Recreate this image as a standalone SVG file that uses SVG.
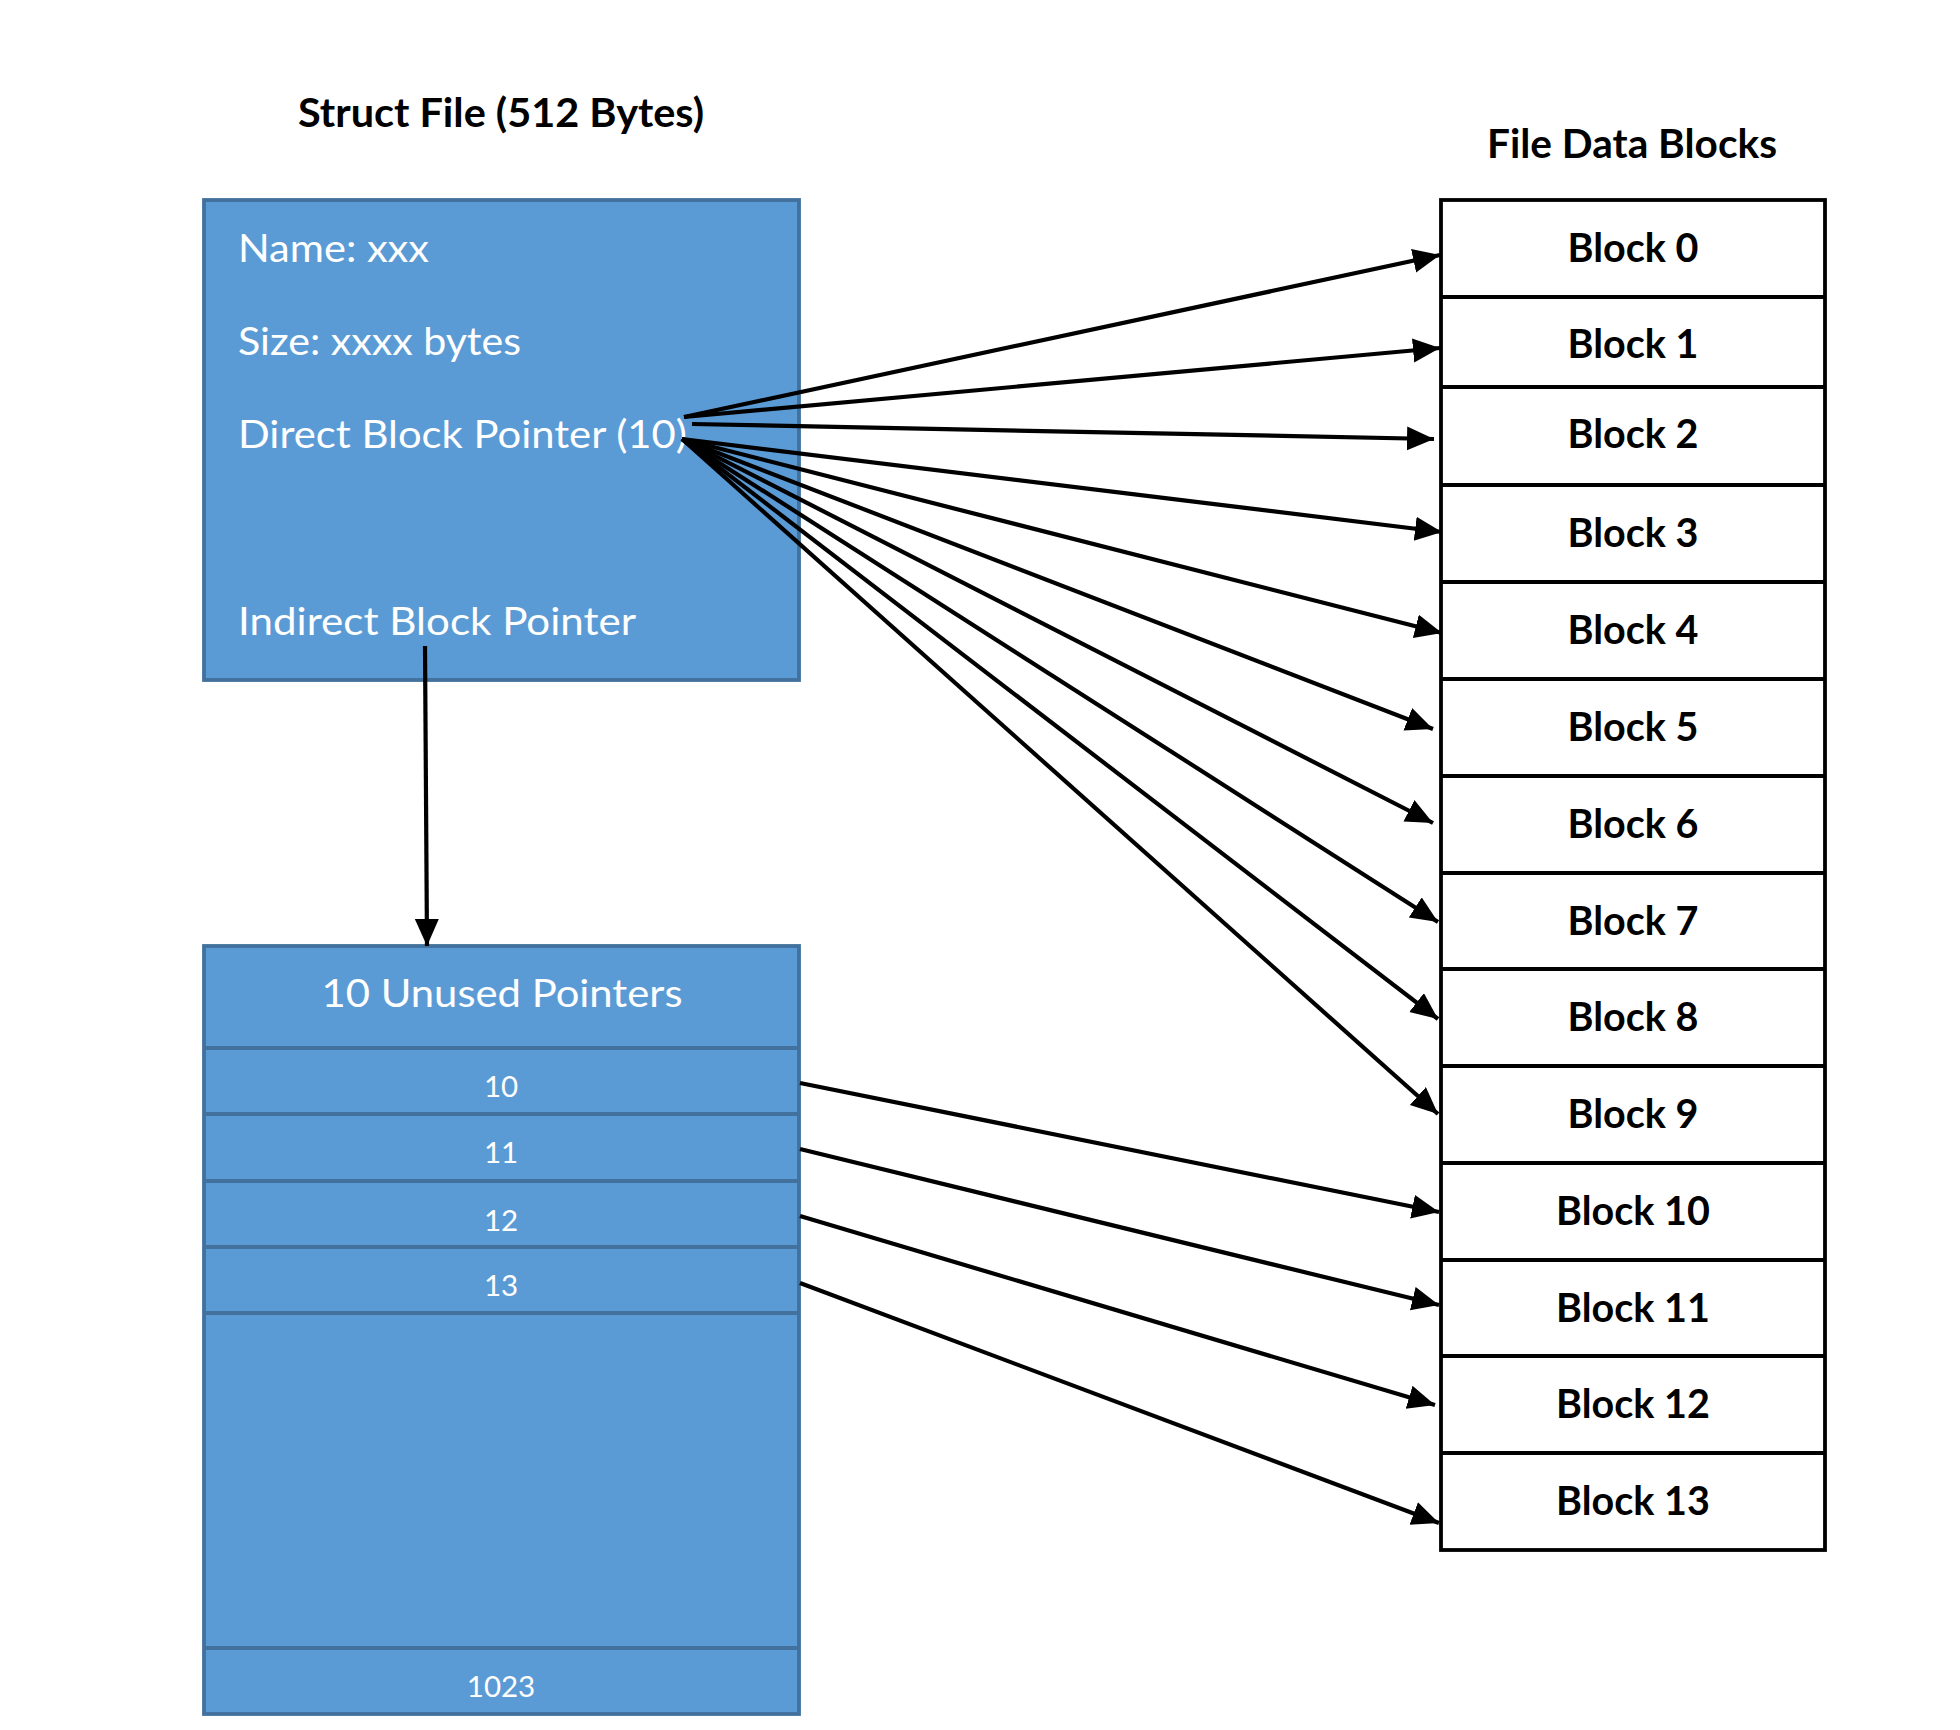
<svg xmlns="http://www.w3.org/2000/svg" width="1960" height="1730" viewBox="0 0 1960 1730">
<style>
.bg{fill:#ffffff}
.struct{fill:#5B9BD5;stroke:#41719C;stroke-width:3.8}
.sep{stroke:#41719C;stroke-width:3.8;fill:none}
.blk{fill:#ffffff;stroke:#000000;stroke-width:3.8}
.title{font-family:Lato,"Liberation Sans",sans-serif;font-weight:bold;font-size:39.5px;fill:#000000}
.wt{font-family:Lato,"Liberation Sans",sans-serif;font-size:39.5px;fill:#ffffff}
.num{font-family:Lato,"Liberation Sans",sans-serif;font-size:29.5px;fill:#ffffff;text-anchor:middle}
.bl{font-family:Lato,"Liberation Sans",sans-serif;font-weight:bold;font-size:39.5px;fill:#000000;text-anchor:middle}
.ar{stroke:#000000;stroke-width:4.2;fill:none;marker-end:url(#ah)}
</style>
<defs>
<marker id="ah" markerUnits="userSpaceOnUse" markerWidth="30" markerHeight="26" refX="27" refY="12" orient="auto">
<path d="M0,0 L27,12 L0,24 Z" fill="#000000"/>
</marker>
</defs>
<rect class="bg" x="0" y="0" width="1960" height="1730"/>

<g id="title-struct"><text class="title" x="501" y="127" text-anchor="middle" textLength="406" lengthAdjust="spacingAndGlyphs">Struct File (512 Bytes)</text></g>
<g id="title-blocks"><text class="title" x="1632" y="158" text-anchor="middle" textLength="290" lengthAdjust="spacingAndGlyphs">File Data Blocks</text></g>

<g id="struct-file">
<rect class="struct" x="204" y="200" width="595" height="480"/>
<text class="wt" x="238" y="262" textLength="191" lengthAdjust="spacingAndGlyphs">Name: xxx</text>
<text class="wt" x="238" y="355" textLength="283" lengthAdjust="spacingAndGlyphs">Size: xxxx bytes</text>
<text class="wt" x="238" y="448" textLength="449" lengthAdjust="spacingAndGlyphs">Direct Block Pointer (10)</text>
<text class="wt" x="238" y="635" textLength="398" lengthAdjust="spacingAndGlyphs">Indirect Block Pointer</text>
</g>

<g id="indirect-block">
<rect class="struct" x="204" y="946" width="595" height="768"/>
<line class="sep" x1="204" y1="1048" x2="799" y2="1048"/>
<line class="sep" x1="204" y1="1114" x2="799" y2="1114"/>
<line class="sep" x1="204" y1="1181" x2="799" y2="1181"/>
<line class="sep" x1="204" y1="1247" x2="799" y2="1247"/>
<line class="sep" x1="204" y1="1313" x2="799" y2="1313"/>
<line class="sep" x1="204" y1="1648" x2="799" y2="1648"/>
<text class="wt" x="502" y="1007" text-anchor="middle" textLength="361" lengthAdjust="spacingAndGlyphs">10 Unused Pointers</text>
<text class="num" x="501" y="1097">10</text>
<text class="num" x="501" y="1163">11</text>
<text class="num" x="501" y="1231">12</text>
<text class="num" x="501" y="1296">13</text>
<text class="num" x="501" y="1697">1023</text>
</g>

<g id="data-blocks">
<rect class="blk" x="1441" y="200" width="384" height="1350"/>
<line class="blk" x1="1441" y1="297" x2="1825" y2="297"/>
<line class="blk" x1="1441" y1="387" x2="1825" y2="387"/>
<line class="blk" x1="1441" y1="485" x2="1825" y2="485"/>
<line class="blk" x1="1441" y1="582" x2="1825" y2="582"/>
<line class="blk" x1="1441" y1="679" x2="1825" y2="679"/>
<line class="blk" x1="1441" y1="776" x2="1825" y2="776"/>
<line class="blk" x1="1441" y1="873" x2="1825" y2="873"/>
<line class="blk" x1="1441" y1="969" x2="1825" y2="969"/>
<line class="blk" x1="1441" y1="1066" x2="1825" y2="1066"/>
<line class="blk" x1="1441" y1="1163" x2="1825" y2="1163"/>
<line class="blk" x1="1441" y1="1260" x2="1825" y2="1260"/>
<line class="blk" x1="1441" y1="1356" x2="1825" y2="1356"/>
<line class="blk" x1="1441" y1="1453" x2="1825" y2="1453"/>
<text class="bl" x="1633" y="262">Block 0</text>
<text class="bl" x="1633" y="358">Block 1</text>
<text class="bl" x="1633" y="448">Block 2</text>
<text class="bl" x="1633" y="547">Block 3</text>
<text class="bl" x="1633" y="644">Block 4</text>
<text class="bl" x="1633" y="741">Block 5</text>
<text class="bl" x="1633" y="838">Block 6</text>
<text class="bl" x="1633" y="935">Block 7</text>
<text class="bl" x="1633" y="1031">Block 8</text>
<text class="bl" x="1633" y="1128">Block 9</text>
<text class="bl" x="1633" y="1225">Block 10</text>
<text class="bl" x="1633" y="1322">Block 11</text>
<text class="bl" x="1633" y="1418">Block 12</text>
<text class="bl" x="1633" y="1515">Block 13</text>
</g>

<g id="connectors">
<line class="ar" x1="684" y1="417" x2="1440" y2="255"/>
<line class="ar" x1="684" y1="417" x2="1440" y2="348"/>
<line class="ar" x1="692" y1="424" x2="1434" y2="439"/>
<line class="ar" x1="682" y1="439" x2="1442" y2="532"/>
<line class="ar" x1="682" y1="439" x2="1442" y2="633"/>
<line class="ar" x1="682" y1="439" x2="1433" y2="729"/>
<line class="ar" x1="682" y1="439" x2="1433" y2="823"/>
<line class="ar" x1="682" y1="439" x2="1438" y2="922"/>
<line class="ar" x1="682" y1="439" x2="1438" y2="1019"/>
<line class="ar" x1="682" y1="439" x2="1438" y2="1114"/>
<line class="ar" x1="425" y1="646" x2="427" y2="946"/>
<line class="ar" x1="800" y1="1083" x2="1439" y2="1212"/>
<line class="ar" x1="800" y1="1149" x2="1439" y2="1305"/>
<line class="ar" x1="800" y1="1216" x2="1435" y2="1405"/>
<line class="ar" x1="800" y1="1283" x2="1439" y2="1523"/>
</g>
</svg>
